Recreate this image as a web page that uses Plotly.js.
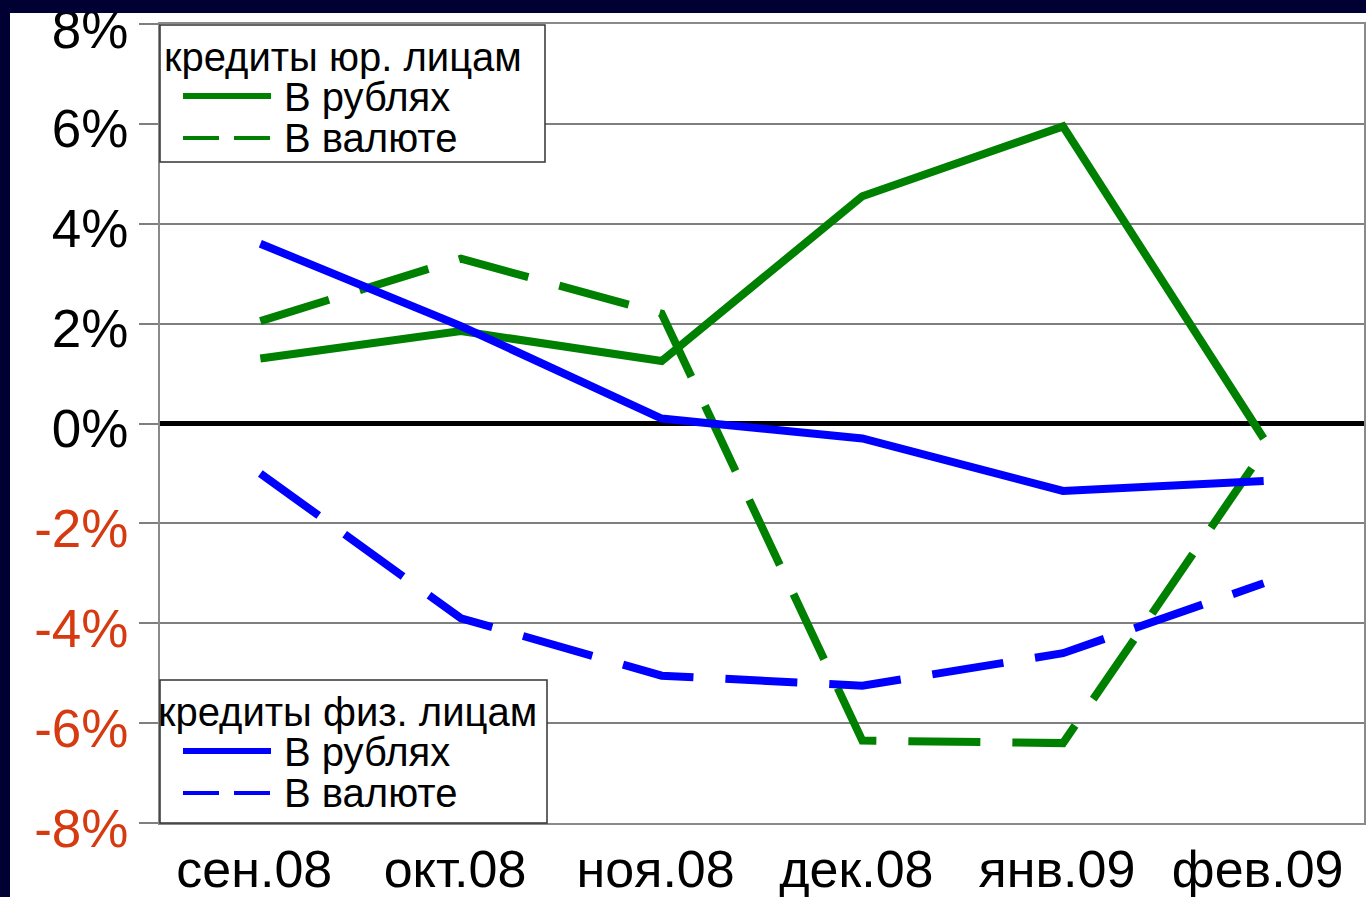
<!DOCTYPE html>
<html>
<head>
<meta charset="utf-8">
<script src="https://cdn.plot.ly/plotly-3.0.1.min.js"></script>
<style>
  html, body { margin: 0; padding: 0; background: #000033; width: 1366px; height: 897px; overflow: hidden; }
  #chart { position: absolute; left: 10px; top: 13px; width: 1356px; height: 884px; }
</style>
</head>
<body>
<div id="chart"></div>
<script>
// ---- data ----
const months = ["сен.08", "окт.08", "ноя.08", "дек.08", "янв.09", "фев.09"];
const corpRub = [1.3, 1.85, 1.25, 4.55, 5.95, -0.3];
const corpFx  = [2.05, 3.3, 2.2, -6.35, -6.4, -0.55];
const retailRub = [3.6, 1.95, 0.1, -0.3, -1.35, -1.15];
const retailFx  = [-1.0, -3.9, -5.05, -5.25, -4.6, -3.2];
const yTickVals = [-8, -6, -4, -2, 0, 2, 4, 6, 8];
const yTickLabels = ["-8%", "-6%", "-4%", "-2%", "0%", "2%", "4%", "6%", "8%"];
const corpTitle = "кредиты юр. лицам";
const retailTitle = "кредиты физ. лицам";
const nameRub = "В рублях";
const nameFx = "В валюте";

const GREEN = "#008000";
const BLUE = "#0000ff";
const RED = "#d63a10";
const DASH = "72px,32px";
const LEGDASH = "36px,15px";
const FONT = "Liberation Sans, Arial, sans-serif";

const tickText = yTickVals.map((v, i) =>
  v < 0 ? '<span style="color:' + RED + '">' + yTickLabels[i] + '</span>' : yTickLabels[i]);

const traces = [
  {x: months, y: corpRub, name: corpTitle + " – " + nameRub, mode: "lines",
   line: {color: GREEN, width: 8}},
  {x: months, y: corpFx, name: corpTitle + " – " + nameFx, mode: "lines",
   line: {color: GREEN, width: 8, dash: DASH}},
  {x: months, y: retailRub, name: retailTitle + " – " + nameRub, mode: "lines",
   line: {color: BLUE, width: 8}},
  {x: months, y: retailFx, name: retailTitle + " – " + nameFx, mode: "lines",
   line: {color: BLUE, width: 8, dash: DASH}}
];

// ---- legend boxes (drawn in plot-area paper coordinates) ----
// plot area: 1204 px wide, 799 px tall
const PW = 1204, PH = 799;
const px = v => v / PW;           // px offset from plot left -> paper x
const py = v => 1 - v / PH;       // px offset from plot top  -> paper y

function legendBlock(top, bottom, right, title, color, titleDx) {
  const shapes = [], ann = [];
  shapes.push({type: "rect", xref: "paper", yref: "paper", layer: "above",
    x0: 0, x1: px(right), y0: py(bottom), y1: py(top),
    fillcolor: "#ffffff", line: {color: "#333333", width: 1.5}});
  const rowTitle = top + 32, row1 = top + 71, row2 = top + 113;
  shapes.push({type: "line", xref: "paper", yref: "paper", layer: "above",
    x0: px(23), x1: px(111), y0: py(row1), y1: py(row1),
    line: {color: color, width: 6}});
  shapes.push({type: "line", xref: "paper", yref: "paper", layer: "above",
    x0: px(23), x1: px(111), y0: py(row2), y1: py(row2),
    line: {color: color, width: 4, dash: LEGDASH}});
  const f = {family: FONT, size: 40, color: "#000"};
  ann.push({xref: "paper", yref: "paper", x: px(titleDx), y: py(rowTitle),
    xanchor: "left", yanchor: "middle", text: title, showarrow: false, font: f});
  ann.push({xref: "paper", yref: "paper", x: px(122), y: py(row1 + 1),
    xanchor: "left", yanchor: "middle", text: nameRub, showarrow: false, font: f});
  ann.push({xref: "paper", yref: "paper", x: px(122), y: py(row2),
    xanchor: "left", yanchor: "middle", text: nameFx, showarrow: false, font: f});
  return {shapes, ann};
}
const lg1 = legendBlock(1, 138, 385, corpTitle, GREEN, 2);
const lg2 = legendBlock(656, 799, 387, retailTitle, BLUE, -4);

const layout = {
  width: 1356, height: 884,
  margin: {l: 150, r: 2, t: 11, b: 74},
  paper_bgcolor: "#ffffff", plot_bgcolor: "#ffffff",
  font: {family: FONT, color: "#000"},
  showlegend: false,
  xaxis: {
    type: "category", range: [-0.5, 5.5],
    showgrid: false, zeroline: false,
    showline: true, mirror: true, linecolor: "#8a8a8a", linewidth: 2,
    ticks: "", tickfont: {family: FONT, size: 52, color: "#000"},
    ticklabelstandoff: 0, ticklabelshift: -6, fixedrange: true
  },
  yaxis: {
    range: [-8, 8], tickvals: yTickVals, ticktext: tickText,
    showgrid: true, gridcolor: "#7f7f7f", gridwidth: 2,
    zeroline: true, zerolinecolor: "#000000", zerolinewidth: 5,
    showline: true, mirror: true, linecolor: "#8a8a8a", linewidth: 2,
    ticks: "outside", ticklen: 19, tickcolor: "#7f7f7f", tickwidth: 2,
    tickfont: {family: FONT, size: 53, color: "#000"},
    ticklabelstandoff: 0, ticklabelshift: 5, ticklabeloverflow: "allow", fixedrange: true
  },
  shapes: lg1.shapes.concat(lg2.shapes),
  annotations: lg1.ann.concat(lg2.ann)
};

Plotly.newPlot("chart", traces, layout, {displayModeBar: false, staticPlot: true});
</script>
</body>
</html>
